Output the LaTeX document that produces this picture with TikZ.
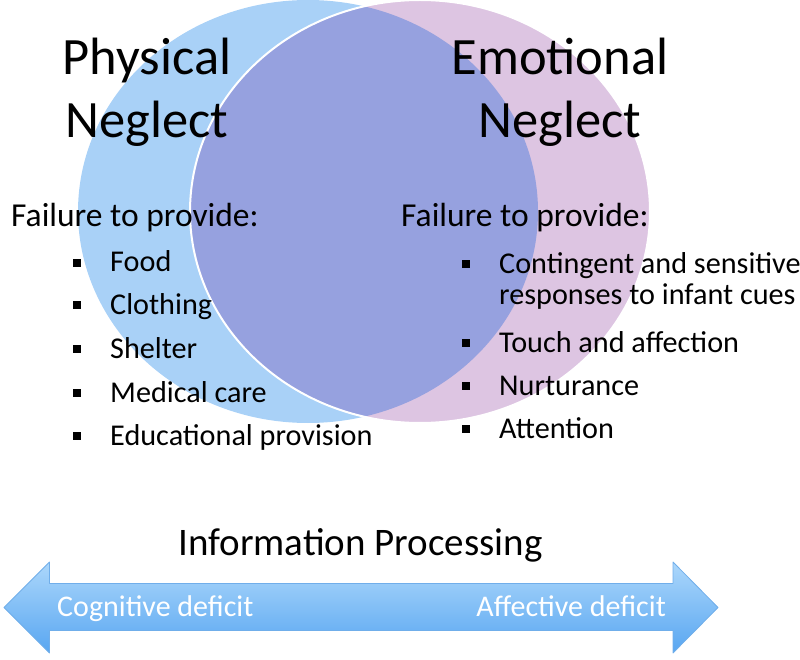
\documentclass[tikz,border=0pt]{standalone}
\usepackage{fontspec}
\setmainfont{Carlito}
\usetikzlibrary{arrows, shapes}
\usetikzlibrary{positioning}

\definecolor{azulfisico}{RGB}{169,209,247}
\definecolor{lilaemocional}{RGB}{221,197,226}
\definecolor{cruce}{RGB}{150,161,223}
\definecolor{flechaclara}{RGB}{172,215,251}
\definecolor{flechaoscura}{RGB}{88,166,241}
\definecolor{flechaborde}{RGB}{112,174,234}

\newcommand{\punto}[1]{\makebox[37pt][l]{\rule[5.5pt]{7.5pt}{7.5pt}}#1}

\begin{document}
\begin{tikzpicture}[x=1pt, y=-1pt,
    titulo/.style={align=center, anchor=base, inner sep=0pt, font=\fontsize{52.5}{63}\selectfont},
    encabezado/.style={anchor=base west, inner sep=0pt, font=\fontsize{33.5}{40}\selectfont},
    lista/.style={anchor=base west, inner sep=0pt, font=\fontsize{30.2}{33}\selectfont},
    etiqueta/.style={inner sep=0pt, text=white, font=\fontsize{30}{36}\selectfont}]
    \useasboundingbox (0,0) rectangle (800,660);
    % Circulos
    \fill[azulfisico] (308,211.5) ellipse [x radius=230, y radius=211.5];
    \fill[lilaemocional] (420,211.5) ellipse [x radius=230, y radius=211.5];
    \begin{scope}
        \clip (308,211.5) ellipse [x radius=230, y radius=211.5];
        \fill[cruce] (420,211.5) ellipse [x radius=230, y radius=211.5];
    \end{scope}
    \draw[white, line width=2pt] (420,211.5) ellipse [x radius=230, y radius=211.5];
    % Titulos
    \node[titulo] (fisica) at (147,138) {Physical\\Neglect};
    \node[titulo] (emocional) at (560,138) {Emotional\\Neglect};
    % Listas
    \node[encabezado] (falta1) at (11,227) {Failure to provide:};
    \node[lista] (comida) at (73,272) {\punto{Food}};
    \node[lista] (ropa) at (73,314) {\punto{Clothing}};
    \node[lista] (refugio) at (73,358) {\punto{Shelter}};
    \node[lista] (medico) at (73,402) {\punto{Medical care}};
    \node[lista] (educacion) at (73,445) {\punto{Educational provision}};
    \node[encabezado] (falta2) at (401,227) {Failure to provide:};
    \node[lista] (respuesta) at (462,273) {\punto{Contingent and sensitive}};
    \node[lista] (respuesta2) at (499,305) {responses to infant cues};
    \node[lista] (tacto) at (462,352) {\punto{Touch and affection}};
    \node[lista] (crianza) at (462,395) {\punto{Nurturance}};
    \node[lista] (atencion) at (462,438) {\punto{Attention}};
    % Flecha
    \node[anchor=base, inner sep=0pt, font=\fontsize{39}{46}\selectfont] (proceso) at (360.5,555) {Information Processing};
    \shade[top color=flechaclara, bottom color=flechaoscura, draw=flechaborde, line width=0.8pt, line join=round]
        (4,607.5) -- (49.5,562) -- (49.5,583.5) -- (673,583.5) -- (673,562) -- (718,607.5)
        -- (673,653) -- (673,630.5) -- (49.5,630.5) -- (49.5,653) -- cycle;
    \node[etiqueta, anchor=base west] (cognitivo) at (57,616) {Cognitive deficit};
    \node[etiqueta, anchor=base east] (afectivo) at (666,616) {Affective deficit};
\end{tikzpicture}
\end{document}
